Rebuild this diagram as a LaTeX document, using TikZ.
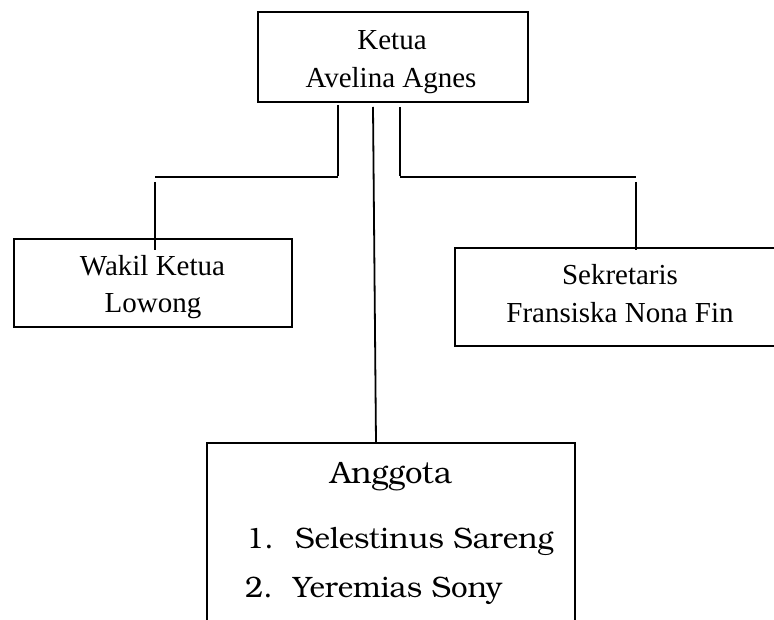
\documentclass[tikz,border=0pt]{standalone}
\usepackage{fontspec}
\setmainfont{Liberation Serif}
\newfontfamily\bkfont{TeX Gyre Bonum}
\begin{document}
\begin{tikzpicture}[x=1pt,y=-1pt,
  box/.style={draw=black,line width=1.8pt,inner sep=0pt,rectangle},
  txt/.style={inner sep=0pt,anchor=base,font=\fontsize{29}{35}\selectfont},
  bktxt/.style={inner sep=0pt,font=\bkfont\fontsize{29.5}{35}\selectfont},
  conn/.style={line width=1.8pt,draw=black}]
\useasboundingbox (0,0) rectangle (774,620);
\clip (0,0) rectangle (774,620);
% boxes
\node[box,minimum width=270pt,minimum height=90pt] (ketua) at (393,57) {};
\node[box,minimum width=278pt,minimum height=88pt] (wakil) at (153,283) {};
\node[box,minimum width=345pt,minimum height=98pt] (sekr) at (627.5,297) {};
\node[box,minimum width=368pt,minimum height=257pt] (angg) at (391,571.5) {};
% texts
\node[txt] (t1) at (392,50) {Ketua};
\node[txt] (t2) at (391,88) {Avelina Agnes};
\node[txt] (t3) at (152.5,276) {Wakil Ketua};
\node[txt] (t4) at (153,313) {Lowong};
\node[txt] (t5) at (620,285) {Sekretaris};
\node[txt] (t6) at (620,323) {Fransiska Nona Fin};
\node[bktxt,anchor=base,font=\bkfont\fontsize{31}{36}\selectfont] (t7) at (391,483) {Anggota};
\node[bktxt,anchor=base west] (t8) at (246,548) {\makebox[49pt][l]{1.}Selestinus Sareng};
\node[bktxt,anchor=base west] (t9) at (245,597) {\makebox[48pt][l]{2.}Yeremias Sony};
% connector points
\coordinate (kl) at (338,105);
\coordinate (klb) at (338,176);
\coordinate (hl1) at (338,177);
\coordinate (hl2) at (155,177);
\coordinate (wl1) at (155,182);
\coordinate (wl2) at (155,250);
\coordinate (kr) at (400,107);
\coordinate (krb) at (400,176);
\coordinate (hr1) at (400,177);
\coordinate (hr2) at (636,177);
\coordinate (sr1) at (636,182);
\coordinate (sr2) at (636,250);
\coordinate (km) at (373,107);
\coordinate (am) at (376,443);
% connectors
\draw[conn] (kl) -- (klb);
\draw[conn] (hl1) -- (hl2);
\draw[conn] (wl1) -- (wl2);
\draw[conn] (kr) -- (krb);
\draw[conn] (hr1) -- (hr2);
\draw[conn] (sr1) -- (sr2);
\draw[conn] (km) -- (am);
\end{tikzpicture}
\end{document}
